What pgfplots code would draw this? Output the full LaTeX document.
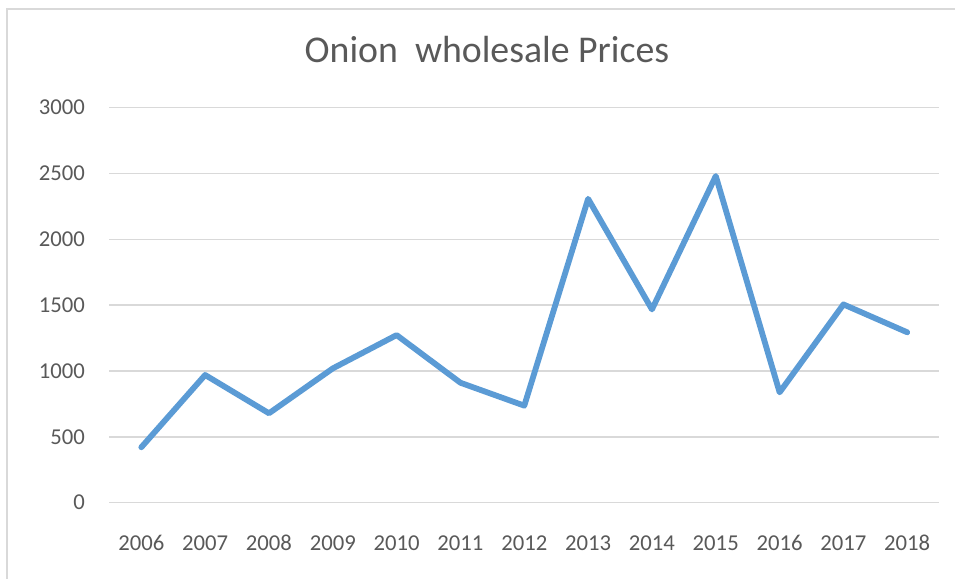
\documentclass[border=0pt]{standalone}
\usepackage{pgfplots}
\pgfplotsset{compat=1.18}
\usepackage{fontspec}
\setmainfont{Carlito}
\definecolor{txtc}{HTML}{595959}
\definecolor{gridc}{HTML}{D9D9D9}
\definecolor{linec}{HTML}{5B9BD5}
\begin{document}
\begin{tikzpicture}
\path[use as bounding box] (-54.7pt,-38.15pt) rectangle (422.8pt,251.35pt);
\draw[draw=gridc, line width=0.75pt] (-51.2pt,-40pt) -- (-51.2pt,246.85pt) -- (425pt,246.85pt);
\begin{axis}[
  scale only axis,
  width=414.9pt, height=197.5pt,
  xmin=2005.5, xmax=2018.5,
  ymin=0, ymax=3000,
  ytick={0,500,...,3000},
  xtick={2006,...,2018},
  axis line style={draw=none},
  major tick length=0pt,
  xmajorgrids=false,
  ymajorgrids=true,
  grid style={draw=gridc, line width=0.75pt},
  /pgf/number format/assume math mode=true,
  /pgf/number format/1000 sep={},
  tick label style={font=\fontsize{11.35}{13}\selectfont, text=txtc},
  xticklabel style={anchor=base, yshift=-23.65pt},
  yticklabel style={xshift=-8.7pt},
  title={Onion\ \ wholesale Prices},
  title style={font=\fontsize{18.9}{22}\selectfont, text=txtc, anchor=base, at={(0.455,1.0853)}},
]
\addplot[draw=linec, line width=2.9pt, line join=round, line cap=round] coordinates {
(2006,421) (2007,970) (2008,679) (2009,1020) (2010,1273) (2011,911) (2012,737)
(2013,2308) (2014,1468) (2015,2481) (2016,838) (2017,1506) (2018,1294)
};
\end{axis}
\end{tikzpicture}
\end{document}
